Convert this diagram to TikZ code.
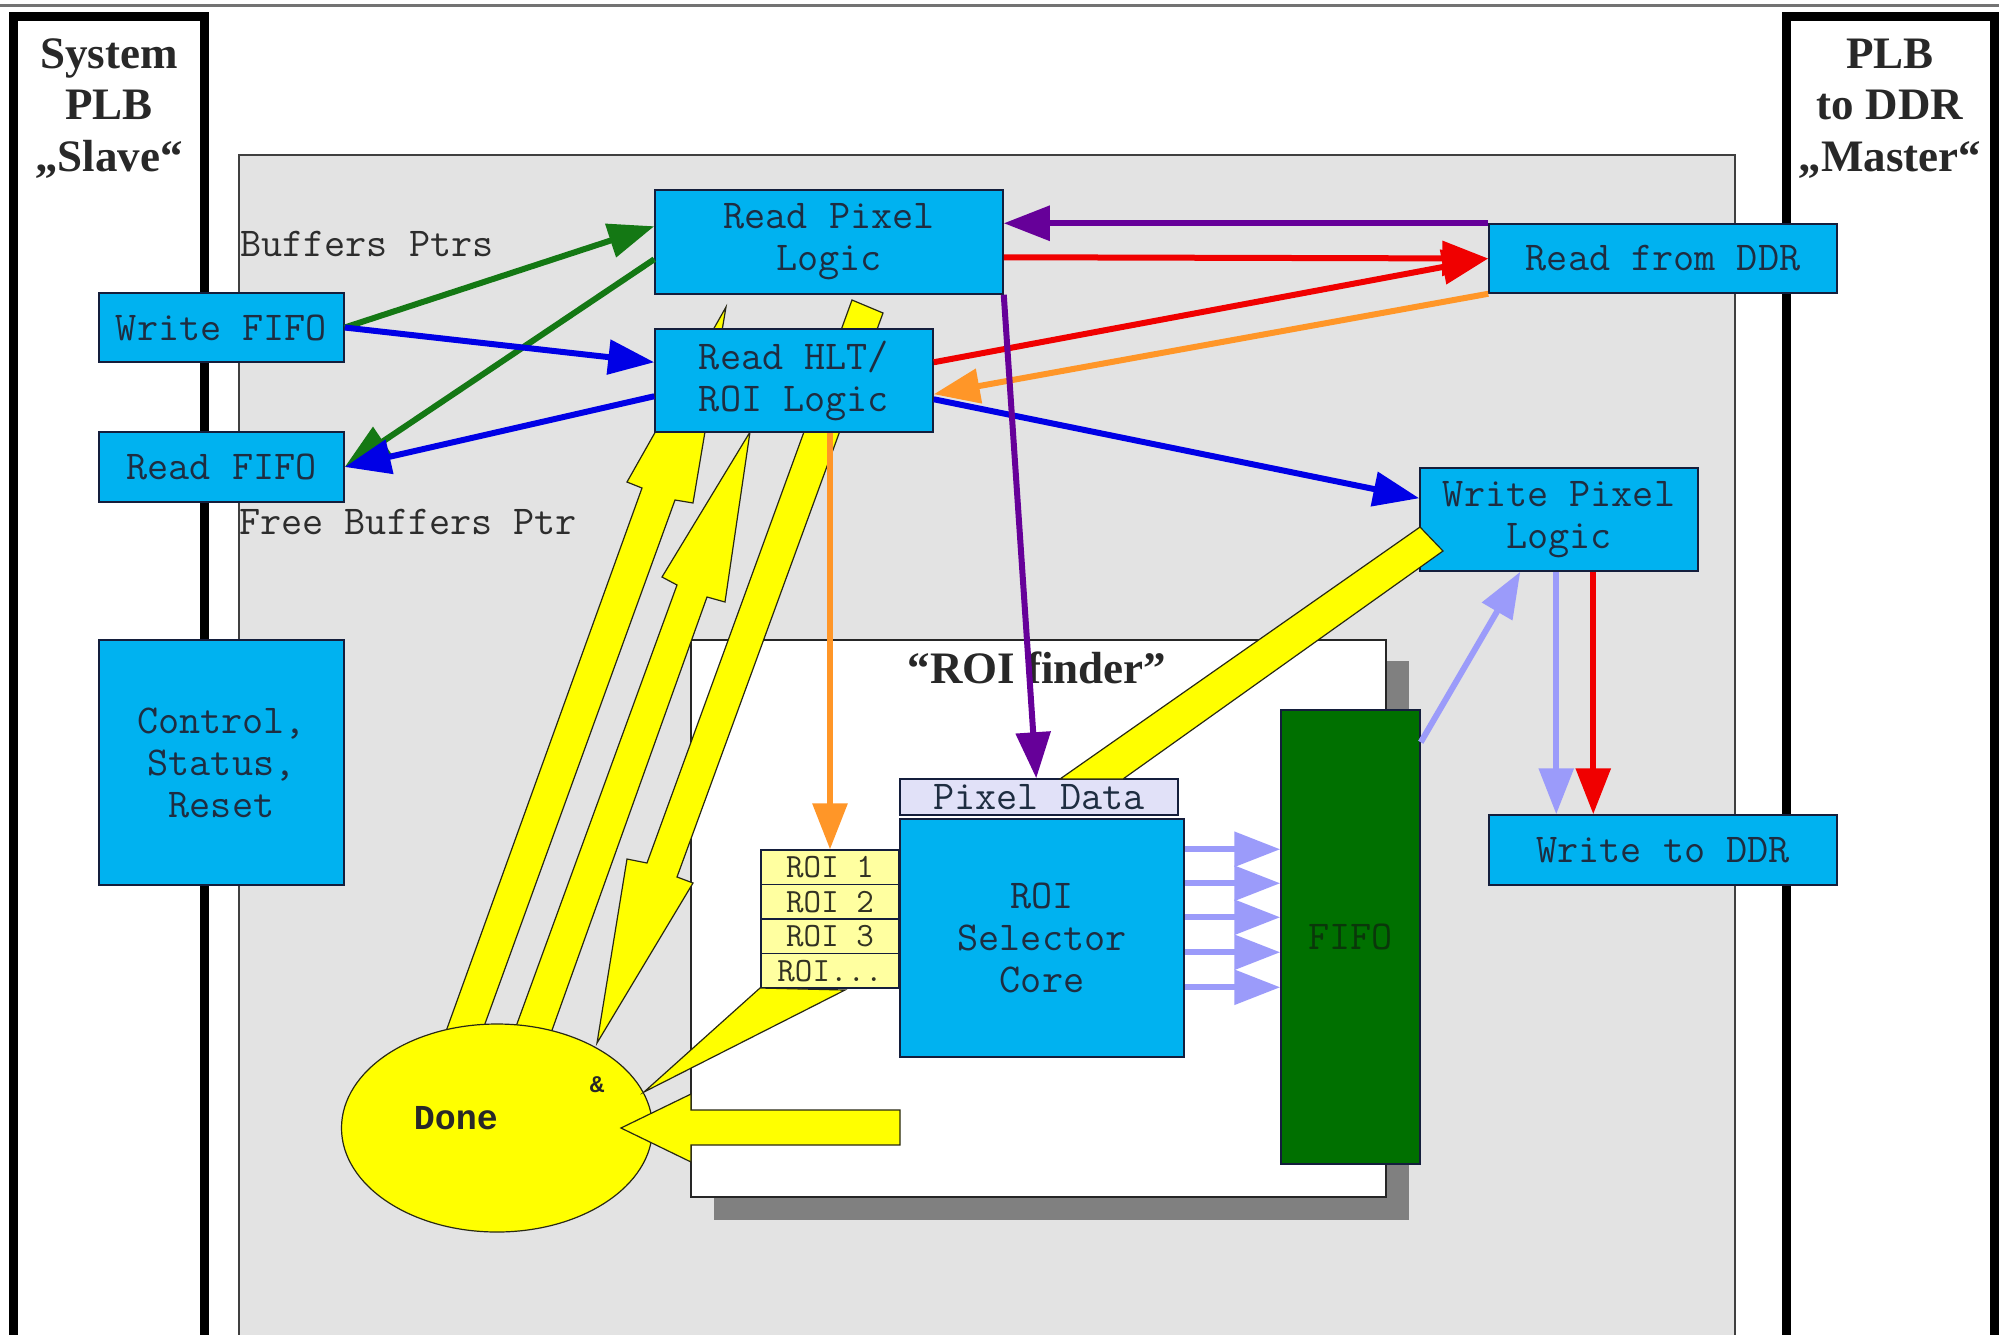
\documentclass[tikz,border=0pt]{standalone}
\usepackage{fontspec}
\setmainfont{Liberation Serif}
\newfontfamily\monob{Liberation Mono}
\newcommand{\monof}{\ttfamily}
\usetikzlibrary{arrows.meta,calc,shapes.geometric}

\definecolor{boxblue}{RGB}{0,178,240}
\definecolor{boxedge}{RGB}{20,30,60}
\definecolor{boxtext}{RGB}{30,45,65}
\definecolor{bggray}{RGB}{227,227,227}
\definecolor{yellowc}{RGB}{255,255,0}
\definecolor{yedge}{RGB}{40,40,20}
\definecolor{roiyel}{RGB}{255,255,160}
\definecolor{roitext}{RGB}{50,50,35}
\definecolor{pixlav}{RGB}{225,225,248}
\definecolor{fifogreen}{RGB}{0,112,0}
\definecolor{fifotext}{RGB}{10,55,10}
\definecolor{shadowc}{RGB}{128,128,128}
\definecolor{cgreen}{RGB}{20,120,20}
\definecolor{cblue}{RGB}{0,0,230}
\definecolor{cred}{RGB}{240,0,0}
\definecolor{cpurple}{RGB}{102,0,153}
\definecolor{corange}{RGB}{255,150,40}
\definecolor{clav}{RGB}{155,155,250}
\definecolor{titletext}{RGB}{40,40,40}
\definecolor{labeltext}{RGB}{45,45,45}

\begin{document}
\begin{tikzpicture}[x=1pt,y=-1pt,
  box/.style={draw=boxedge, line width=1.5pt, fill=boxblue, inner sep=0pt, align=center,
    text=boxtext, font=\monof\fontsize{41}{42}\selectfont},
  roibox/.style={draw=boxedge, line width=1.2pt, fill=roiyel, inner sep=0pt,
    minimum width=138pt, minimum height=34.5pt, text=roitext, font=\monof\fontsize{34}{34}\selectfont},
  conn/.style={line width=6pt, -{Triangle[length=46pt,width=34pt]}},
  yel/.style={fill=yellowc, draw=yedge, line width=1.2pt, line join=miter},
  frametxt/.style={anchor=base, inner sep=0pt, text=titletext, font=\bfseries\fontsize{45}{51}\selectfont},
  lbl/.style={anchor=base west, inner sep=0pt, text=labeltext, font=\monof\fontsize{41}{42}\selectfont}
]
\clip (0,0) rectangle (1999,1334);
\fill[white] (0,0) rectangle (1999,1334);
\draw[line width=3pt, draw=black!55] (0,5) -- (1999,5);

% side frames
\draw[line width=9pt] (13.5,16) rectangle (204,1345);
\draw[line width=9pt] (1786,16) rectangle (1994,1345);
\node[frametxt] (sl1) at (109,68.6) {System};
\node[frametxt] (sl2) at (109,119.6) {PLB};
\node[frametxt] (sl3) at (109,171) {„Slave“};
\node[frametxt] (ms1) at (1890,68.6) {PLB};
\node[frametxt] (ms2) at (1890,119.6) {to DDR};
\node[frametxt] (ms3) at (1890,171) {„Master“};

% gray area
\draw[fill=bggray, draw=black!75, line width=1.5pt] (239,155) rectangle (1735,1345);

% ROI finder box with shadow
\fill[shadowc] (714,661) rectangle (1409,1220);
\node[draw=black!85, fill=white, line width=1.2pt, minimum width=695pt, minimum height=557pt, inner sep=0pt] (roifinder) at (1038.5,918.5) {};
\node[frametxt] (rftitle) at (1037,683) {“ROI finder”};

% yellow block arrows behind boxes
\draw[yel] (440,1048) -- (642,488) -- (627,482) -- (726,307) -- (693,503) -- (675,500) -- (478,1043) -- cycle;
\draw[yel] (510,1043) -- (677,585) -- (662,577) -- (750,432) -- (725,602) -- (707,597) -- (546,1047) -- cycle;
\draw[yel] (852,300) -- (883,313) -- (677,877) -- (693,883) -- (597,1043) -- (627,859) -- (647,863) -- cycle;

% boxes
\node[box, minimum width=245pt, minimum height=69pt] (wfifo) at (221.5,327.5) {Write FIFO};
\node[box, minimum width=245pt, minimum height=70pt] (rfifo) at (221.5,467) {Read FIFO};
\node[box, minimum width=245pt, minimum height=245pt] (ctrl) at (221.5,762.5) {Control,\\Status,\\Reset};
\node[box, minimum width=348pt, minimum height=104pt] (rpix) at (829,242) {Read Pixel\\Logic};
\node[box, minimum width=278pt, minimum height=103pt] (rhlt) at (794,380.5) {Read HLT/\\ROI Logic};
\node[box, minimum width=348pt, minimum height=69pt] (rddr) at (1663,258.5) {Read from DDR};
\node[box, minimum width=278pt, minimum height=103pt] (wpix) at (1559,519.5) {Write Pixel\\Logic};
\node[box, minimum width=348pt, minimum height=70pt] (wddr) at (1663,850) {Write to DDR};
\node[box, fill=pixlav, minimum width=278pt, minimum height=36pt] (pixdata) at (1039,797) {Pixel Data};
\node[box, minimum width=284pt, minimum height=238pt] (core) at (1042,938) {ROI\\Selector\\Core};
\node[roibox] (roi1) at (830,867.25) {ROI 1};
\node[roibox] (roi2) at (830,901.75) {ROI 2};
\node[roibox] (roi3) at (830,936.25) {ROI 3};
\node[roibox] (roi4) at (830,970.75) {ROI...};
\node[box, fill=fifogreen, text=fifotext, minimum width=139pt, minimum height=454pt] (fifo) at (1350.5,937) {FIFO};

% yellow band to Write Pixel Logic
\draw[yel] (1060,779) -- (1420,527) -- (1443,551) -- (1123,779) -- cycle;

% Done
\node[ellipse, draw=yedge, fill=yellowc, line width=1.2pt, minimum width=311pt, minimum height=208pt, inner sep=0pt] (done) at (497,1128) {};
\draw[yel] (760,988) -- (845,990) -- (644,1092) -- cycle;
\draw[yel] (900,1110) -- (691,1110) -- (691,1094) -- (621,1128) -- (691,1162) -- (691,1145) -- (900,1145) -- cycle;
\node[anchor=base, inner sep=0pt, text=titletext, font=\monob\bfseries\fontsize{35}{40}\selectfont] (donelbl) at (456,1129) {Done};
\node[inner sep=0pt, text=titletext, font=\monob\bfseries\fontsize{24}{28}\selectfont] (amp) at (597,1085) {\&};

% labels
\node[lbl] (bptrs) at (240,256) {Buffers Ptrs};
\node[lbl] (fbptr) at (239,534) {Free Buffers Ptr};

% connectors
\draw[conn, cgreen] (wfifo.east) -- ($(rpix.north west)+(0,37)$);
\draw[conn, cgreen] ($(rpix.north west)+(0,70)$) -- (rfifo.east);
\draw[conn, cblue] (wfifo.east) -- ($(rhlt.north west)+(0,34)$);
\draw[conn, cblue] ($(rhlt.north west)+(0,68)$) -- (rfifo.east);
\draw[conn, cpurple] (rddr.north west) -- ($(rpix.north east)+(0,34)$);
\draw[conn, cred] ($(rpix.north east)+(0,68)$) -- (rddr.west);
\draw[conn, cred] ($(rhlt.north east)+(0,34)$) -- (rddr.west);
\draw[conn, corange] (rddr.south west) -- ($(rhlt.north east)+(0,66)$);
\draw[conn, cblue] ($(rhlt.north east)+(0,71)$) -- ($(wpix.north west)+(0,31)$);
\draw[conn, cpurple] (rpix.south east) -- ($(pixdata.north west)+(137,0)$);
\draw[conn, corange] (roi1.north |- rhlt.south) -- (roi1.north);
\foreach \k in {31,65,99,134,169} {
  \coordinate (ls) at ($(core.north east)+(0,\k)$);
  \draw[conn, clav] (ls) -- (fifo.west |- ls);
}
\draw[conn, clav] ($(fifo.north east)+(0,33)$) -- ($(wpix.south west)+(101,0)$);
\coordinate (w1) at ($(wpix.south west)+(137,0)$);
\draw[conn, clav] (w1) -- (w1 |- wddr.north);
\coordinate (w2) at ($(wpix.south west)+(174,0)$);
\draw[conn, cred] (w2) -- (w2 |- wddr.north);
\end{tikzpicture}
\end{document}
